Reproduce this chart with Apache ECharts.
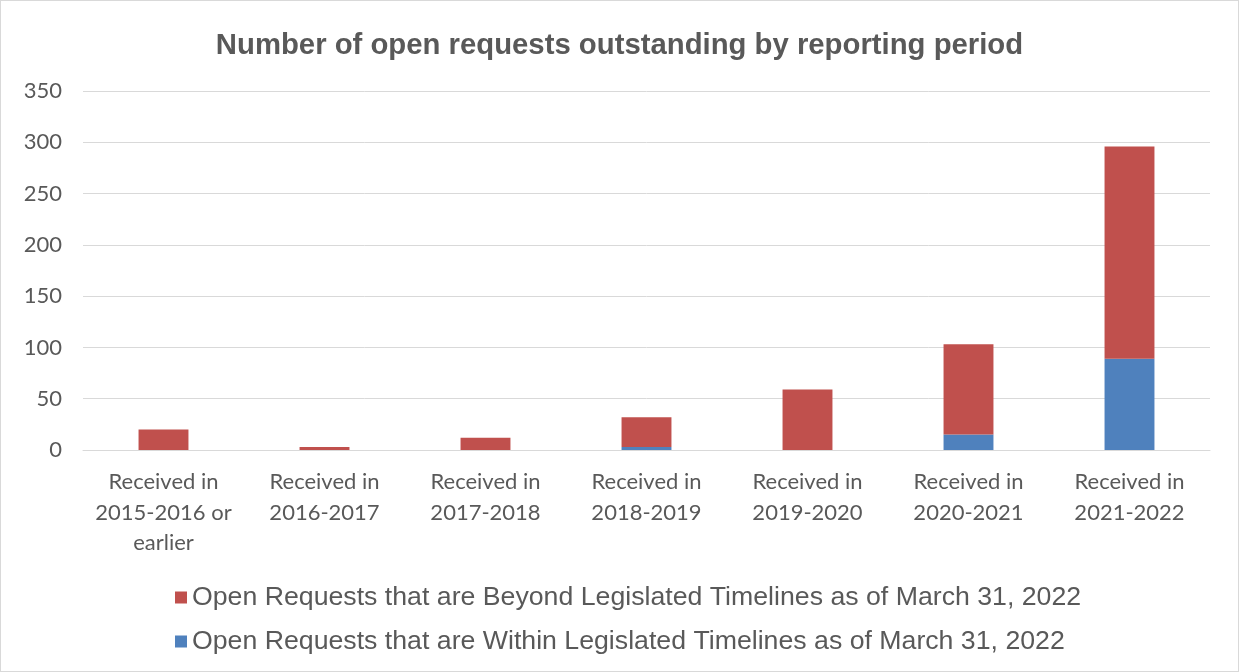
<!DOCTYPE html>
<html lang="en">
<head>
    <meta charset="UTF-8">
    <title>Open requests</title>
    <style>
        html, body { margin: 0; padding: 0; background: #fff; }
        #main { width: 1237px; height: 670px; border: 1px solid #d9d9d9; }
    </style>
</head>
<body>
<div id="main"></div>
<script type="text/javascript" src="https://cdn.jsdelivr.net/npm/echarts@6/dist/echarts.min.js"></script>
<script>
    var categories = [
        'Received in\n2015-2016 or\nearlier',
        'Received in\n2016-2017',
        'Received in\n2017-2018',
        'Received in\n2018-2019',
        'Received in\n2019-2020',
        'Received in\n2020-2021',
        'Received in\n2021-2022'
    ];
    var withinValues = [0, 0, 0, 3, 0, 15, 89];
    var beyondValues = [20, 3, 12, 29, 59, 88, 207];
    var beyondName = 'Open Requests that are Beyond Legislated Timelines as of March 31, 2022';
    var withinName = 'Open Requests that are Within Legislated Timelines as of March 31, 2022';

    var myChart = echarts.init(document.getElementById('main'));

    var textColor = '#595959';
    var option = {
        animation: false,
        title: {
            text: 'Number of open requests outstanding by reporting period',
            left: 'center',
            top: 25,
            textStyle: {
                fontFamily: 'Liberation Sans, Arial',
                fontSize: 29.3,
                fontWeight: 'bold',
                color: textColor
            }
        },
        legend: {
            orient: 'vertical',
            left: 174,
            top: 583,
            padding: 0,
            itemWidth: 12,
            itemHeight: 12,
            itemGap: 17,
            icon: 'rect',
            data: [beyondName, withinName],
            textStyle: {
                fontFamily: 'Liberation Sans, Arial',
                fontSize: 26.7,
                color: textColor,
                padding: [0, 0, 0, 0]
            }
        },
        grid: {
            left: 82,
            right: 28,
            top: 90,
            bottom: 221
        },
        xAxis: {
            type: 'category',
            data: categories,
            axisTick: { show: false },
            axisLine: { lineStyle: { color: '#d9d9d9', width: 1 } },
            axisLabel: {
                fontFamily: 'Lato',
                fontSize: 22,
                color: textColor,
                lineHeight: 30.5,
                margin: 17,
                interval: 0
            }
        },
        yAxis: {
            type: 'value',
            min: 0,
            max: 350,
            interval: 50,
            axisLabel: {
                fontFamily: 'Lato',
                fontSize: 22,
                color: textColor,
                margin: 21
            },
            splitLine: { lineStyle: { color: '#d9d9d9', width: 1 } }
        },
        series: [
            {
                name: withinName,
                type: 'bar',
                stack: 'total',
                barWidth: '31%',
                itemStyle: { color: '#4f81bd' },
                data: withinValues
            },
            {
                name: beyondName,
                type: 'bar',
                stack: 'total',
                barWidth: '31%',
                itemStyle: { color: '#c0504d' },
                data: beyondValues
            }
        ]
    };

    myChart.setOption(option);
</script>
</body>
</html>
